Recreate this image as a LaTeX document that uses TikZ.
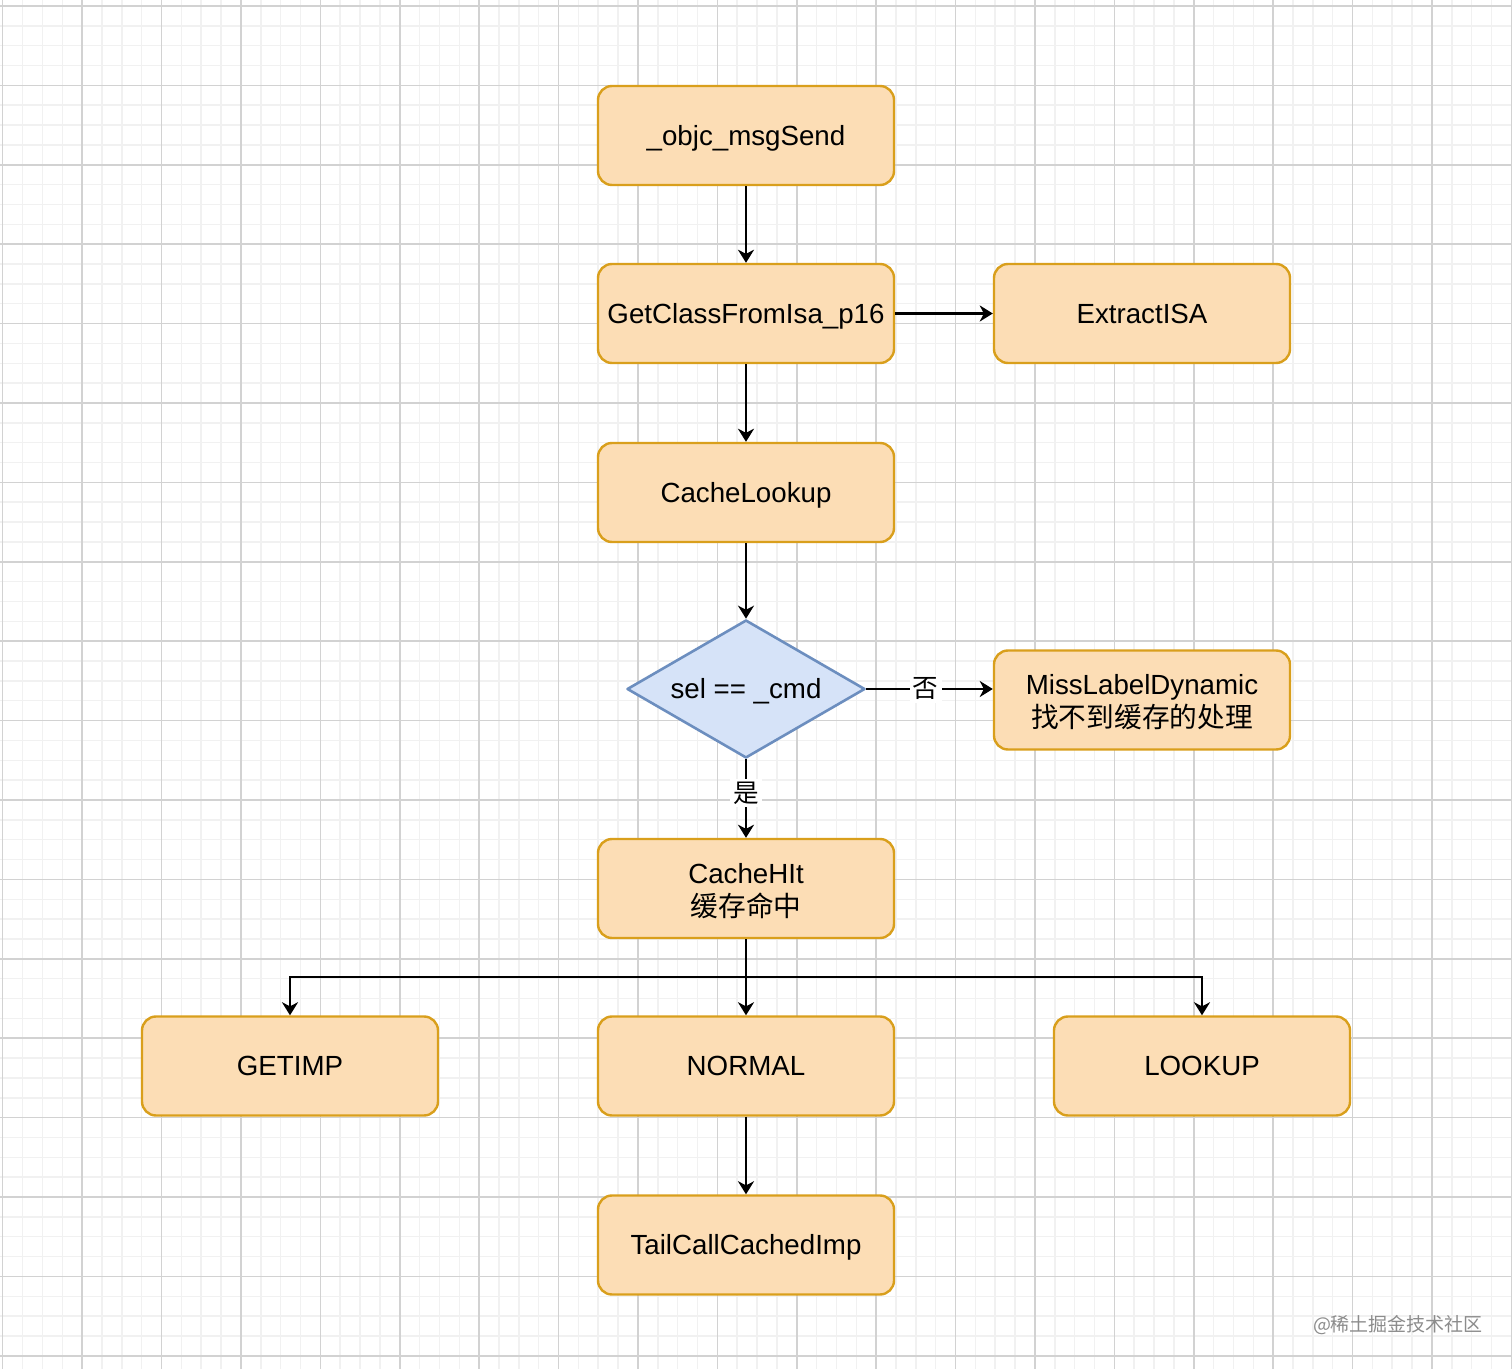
\documentclass[tikz,border=0pt]{standalone}
\usepackage{fontspec}
\setmainfont{Liberation Sans}
\newfontfamily\cjk{Noto Sans CJK SC}
\usetikzlibrary{shapes.geometric,arrows.meta}
\definecolor{boxfill}{HTML}{FCDDB5}
\definecolor{boxdraw}{HTML}{D99F1C}
\definecolor{dfill}{HTML}{D6E3F8}
\definecolor{ddraw}{HTML}{6C8EBF}
\definecolor{minorc}{HTML}{F1F1F1}
\definecolor{majorc}{HTML}{D2D2D2}
\newcommand{\mainsz}{\fontsize{13.85pt}{16.5pt}\selectfont}
\tikzset{
  minorline/.style={draw=minorc, line width=0.75pt},
  majorline/.style={draw=majorc, line width=0.8pt},
  box/.style={draw=boxdraw, fill=boxfill, line width=1.2pt, rounded corners=7pt,
    minimum width=148pt, minimum height=49.5pt, inner sep=0pt, align=center,
    font=\mainsz},
  oneline/.style={text height=9.9pt, text depth=0pt},
  txt/.style={inner sep=0pt, align=center, font=\mainsz},
  decision/.style={diamond, draw=ddraw, fill=dfill, line width=1.3pt, aspect=1.72,
    minimum width=119pt, minimum height=69pt, inner sep=0pt, font=\mainsz, line join=round},
  conn/.style={draw=black, line width=1.1pt, -{Stealth[length=6.5pt,width=8pt,inset=2pt]}},
  elabel/.style={fill=white, inner sep=1.5pt, font=\fontsize{12.8pt}{14pt}\selectfont\cjk}
}
\begin{document}
\begin{tikzpicture}[x=0.5pt,y=-0.5pt]
\useasboundingbox (0,0) rectangle (1512,1369);
\fill[white] (0,0) rectangle (1512,1369);
% grid
\foreach \i in {0,...,76} {
  \pgfmathsetmacro\xx{2.7+19.85*\i}
  \draw[minorline] (\xx,0) -- (\xx,1369);
}
\foreach \i in {0,...,68} {
  \pgfmathsetmacro\yy{6+19.85*\i}
  \draw[minorline] (0,\yy) -- (1512,\yy);
}
\foreach \i in {0,...,19} {
  \pgfmathsetmacro\xx{2.7+79.4*\i}
  \draw[majorline] (\xx,0) -- (\xx,1369);
}
\foreach \i in {0,...,17} {
  \pgfmathsetmacro\yy{6+79.4*\i}
  \draw[majorline] (0,\yy) -- (1512,\yy);
}
% nodes
\node[box, oneline] (send) at (746,135.5) {\_objc\_msgSend};
\node[box, oneline] (isa) at (746,313.5) {GetClassFromIsa\_p16};
\node[box, oneline] (extract) at (1142,313.5) {ExtractISA};
\node[box, oneline] (lookup) at (746,492.5) {CacheLookup};
\node[decision, text height=9.9pt, text depth=0pt] (cmp) at (746,689) {sel == \_cmd};
\node[box] (miss) at (1142,700) {};
\node[txt] (misstxt) at ([yshift=-1.3pt]miss.center) {MissLabelDynamic\\{\cjk 找不到缓存的处理}};
\node[box] (hit) at (746,888.5) {};
\node[txt] (hittxt) at ([yshift=-1.3pt]hit.center) {CacheHIt\\{\cjk 缓存命中}};
\node[box, oneline] (getimp) at (290,1066) {GETIMP};
\node[box, oneline] (normal) at (746,1066) {NORMAL};
\node[box, oneline] (lookupb) at (1202,1066) {LOOKUP};
\node[box, oneline] (tail) at (746,1245) {TailCallCachedImp};
\node[text=black!45, font=\fontsize{9.5pt}{11pt}\selectfont\cjk] (wm) at (1398,1325) {@稀土掘金技术社区};
% connectors
\coordinate (bus) at (746,977);
\draw[conn] (send) -- (isa);
\draw[conn] (isa) -- (extract);
\draw[conn] (isa) -- (lookup);
\draw[conn] (lookup) -- (cmp);
\draw[conn] (cmp.east) -- (cmp.east -| miss.west) node[elabel, pos=0.47] {否};
\draw[conn] (cmp.south) -- (hit.north) node[elabel, pos=0.43] {是};
\draw[conn] (hit.south) -- (normal.north);
\draw[conn] (bus) -| (getimp.north);
\draw[conn] (bus) -| (lookupb.north);
\draw[conn] (normal) -- (tail);
\end{tikzpicture}
\end{document}
